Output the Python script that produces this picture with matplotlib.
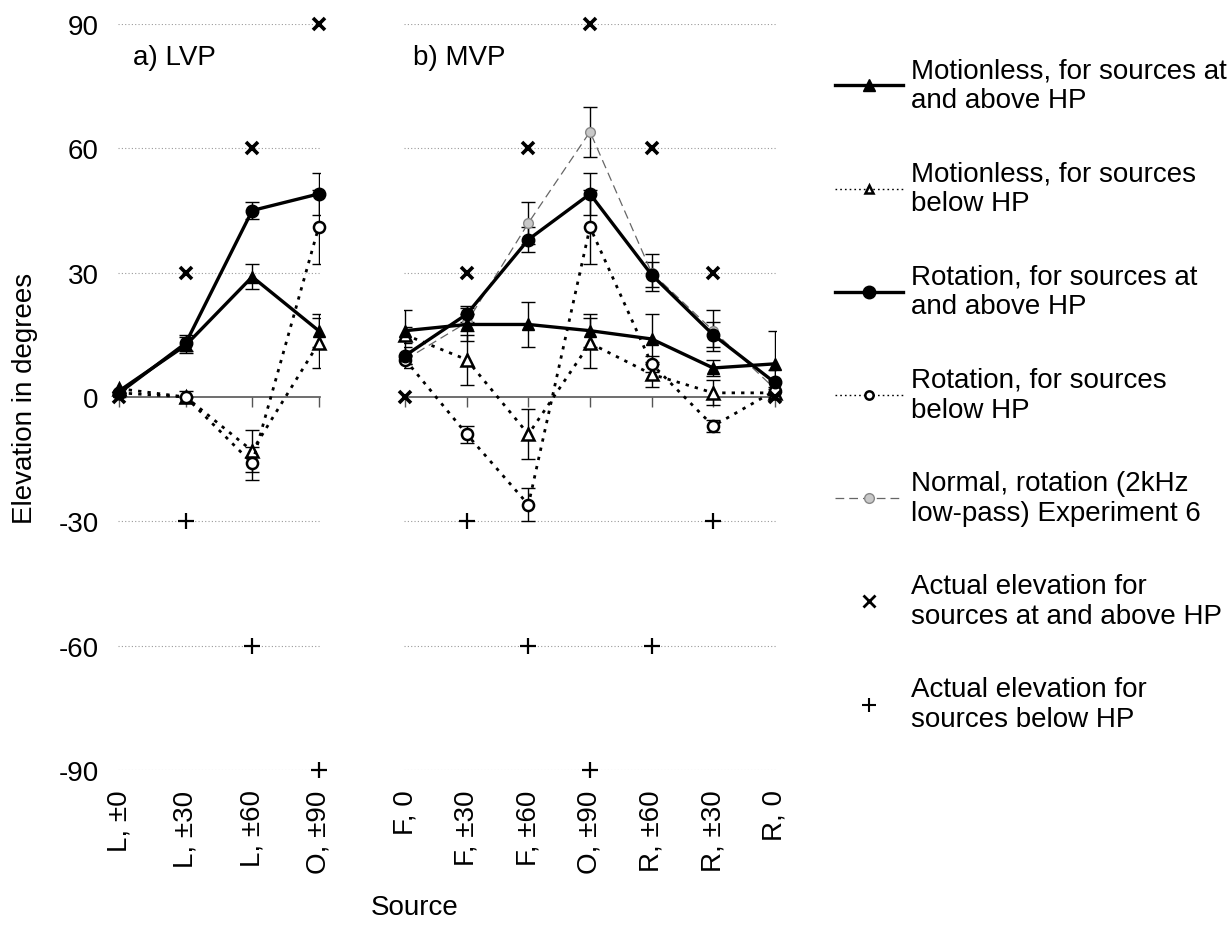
import numpy as np
import matplotlib
matplotlib.use("Agg")
import matplotlib.pyplot as plt
from matplotlib.lines import Line2D

plt.rcParams['font.family'] = ['Liberation Sans', 'DejaVu Sans']
plt.rcParams['font.size'] = 20
plt.rcParams['axes.unicode_minus'] = False

nan = np.nan

# ---- categories ----
lvp_cats = ['L, ±0', 'L, ±30', 'L, ±60', 'O, ±90']
mvp_cats = ['F, 0', 'F, ±30', 'F, ±60', 'O, ±90', 'R, ±60', 'R, ±30', 'R, 0']

# ---- a) LVP ----
lvp_still_above = [1.5, 12.5, 29, 16]
lvp_still_above_err = [1, 2, 3, 4]
lvp_still_below = [2, 0, -13, 13]
lvp_still_below_err = [0, 0, 5, 6]
lvp_rot_above = [1, 13, 45, 49]
lvp_rot_above_err = [1, 2, 2, 5]
lvp_rot_below = [1, 0, -16, 41]
lvp_rot_below_err = [0, 1.5, 4, 9]
lvp_actual_above = [0, 30, 60, 90]
lvp_actual_below = [nan, -30, -60, -90]

# ---- b) MVP ----
mvp_still_above = [16, 17.5, 17.5, 16, 14, 7, 8]
mvp_still_above_err = [5, 4, 5.5, 4, 6, 2, 8]
mvp_still_below = [15, 9, -9, 13, 5.5, 1, 1]
mvp_still_below_err = [2, 6, 6, 6, 3, 3, 1]
mvp_rot_above = [10, 20, 38, 49, 29.5, 15, 3.5]
mvp_rot_above_err = [2, 2, 3, 5, 3, 3, 3]
mvp_rot_below = [9, -9, -26, 41, 8, -7, 1.5]
mvp_rot_below_err = [1, 2, 4, 9, 2, 1.5, 1]
mvp_normal = [9, 18, 42, 64, 30, 16, 2]
mvp_normal_err = [2, 2, 5, 6, 4.5, 5, 2]
mvp_actual_above = [0, 30, 60, 90, 60, 30, 0]
mvp_actual_below = [nan, -30, -60, -90, -60, -30, nan]

yticks = [-90, -60, -30, 0, 30, 60, 90]

# styles
dot_ls = (0, (1.2, 2.2))
st_above = dict(color='black', lw=2.4, ls='-', marker='^', ms=9, mfc='black', mec='black')
st_below = dict(color='black', lw=2.0, ls=dot_ls, marker='^', ms=8, mfc='white', mec='black', mew=1.8)
rot_above = dict(color='black', lw=2.4, ls='-', marker='o', ms=9, mfc='black', mec='black')
rot_below = dict(color='black', lw=2.0, ls=dot_ls, marker='o', ms=8, mfc='white', mec='black', mew=1.8)
normal = dict(color='#666666', lw=0.9, ls=(0, (7, 4)), marker='o', ms=7, mfc='#c8c8c8', mec='#888888', mew=1)
eb = dict(ecolor='black', elinewidth=1, capsize=5, capthick=1)

fig = plt.figure(figsize=(12.31, 9.37), dpi=100)
ax1 = fig.add_axes([118 / 1231, 1 - 771 / 937, 202 / 1231, 746 / 937])
ax2 = fig.add_axes([404 / 1231, 1 - 771 / 937, 372 / 1231, 746 / 937])


def setup(ax, cats, show_y):
    n = len(cats)
    ax.set_ylim(-90, 90)
    ax.set_xlim(-0.02, n - 1 + 0.02)
    for s in ['top', 'right', 'left']:
        ax.spines[s].set_visible(False)
    ax.spines['bottom'].set_position(('data', 0))
    ax.spines['bottom'].set_color('#555555')
    ax.spines['bottom'].set_linewidth(1.2)
    ax.set_xticks(range(n))
    ax.tick_params(axis='x', direction='out', length=7, width=1, color='#555555', labelbottom=False)
    ax.set_yticks(yticks)
    ax.tick_params(axis='y', length=0, pad=14)
    if not show_y:
        ax.tick_params(axis='y', labelleft=False)
    for v in yticks:
        if v != 0:
            ax.axhline(v, color='#9a9a9a', lw=0.8, ls=(0, (1, 2)), zorder=0)
    sec = ax.secondary_xaxis('bottom')
    sec.set_xticks(range(n))
    sec.set_xticklabels(cats, rotation=90)
    sec.tick_params(length=0, pad=14)
    sec.spines['bottom'].set_visible(False)


def plot_series(ax, y, err, style):
    x = np.arange(len(y))
    ax.errorbar(x, y, yerr=err, fmt='none', zorder=2, **eb)
    ax.plot(x, y, zorder=3, clip_on=False, **style)


setup(ax1, lvp_cats, True)
setup(ax2, mvp_cats, False)

plot_series(ax1, lvp_still_below, lvp_still_below_err, st_below)
plot_series(ax1, lvp_rot_below, lvp_rot_below_err, rot_below)
plot_series(ax1, lvp_still_above, lvp_still_above_err, st_above)
plot_series(ax1, lvp_rot_above, lvp_rot_above_err, rot_above)

plot_series(ax2, mvp_normal, mvp_normal_err, normal)
plot_series(ax2, mvp_still_below, mvp_still_below_err, st_below)
plot_series(ax2, mvp_rot_below, mvp_rot_below_err, rot_below)
plot_series(ax2, mvp_still_above, mvp_still_above_err, st_above)
plot_series(ax2, mvp_rot_above, mvp_rot_above_err, rot_above)

for ax, above, below in [(ax1, lvp_actual_above, lvp_actual_below),
                         (ax2, mvp_actual_above, mvp_actual_below)]:
    x = np.arange(len(above))
    ax.plot(x, above, ls='none', marker='x', ms=9, mew=2.6, color='black', zorder=4, clip_on=False)
    ax.plot(x, below, ls='none', marker='+', ms=12, mew=1.6, color='black', zorder=4, clip_on=False)

ax1.text(0.074, 0.956, 'a) LVP', transform=ax1.transAxes, va='center')
ax2.text(0.024, 0.956, 'b) MVP', transform=ax2.transAxes, va='center')

fig.text(25 / 1231, 1 - 398 / 937, 'Elevation in degrees', rotation=90, ha='center', va='center')
fig.text(415 / 1231, 1 - 908 / 937, 'Source', ha='center', va='center')

handles = [
    Line2D([], [], **st_above),
    Line2D([], [], **{**st_below, 'lw': 1.0, 'ms': 6}),
    Line2D([], [], **rot_above),
    Line2D([], [], **{**rot_below, 'lw': 1.0, 'ms': 6}),
    Line2D([], [], **normal),
    Line2D([], [], ls='none', marker='x', ms=8, mew=2, color='black'),
    Line2D([], [], ls='none', marker='+', ms=10, mew=1.5, color='black'),
]
labels = [
    'Motionless, for sources at\nand above HP',
    'Motionless, for sources\nbelow HP',
    'Rotation, for sources at\nand above HP',
    'Rotation, for sources\nbelow HP',
    'Normal, rotation (2kHz\nlow-pass) Experiment 6',
    'Actual elevation for\nsources at and above HP',
    'Actual elevation for\nsources below HP',
]
leg = fig.legend(handles, labels, loc='upper left', bbox_to_anchor=(835 / 1231, 1 - 58 / 937),
                 frameon=False, handlelength=2.45, handletextpad=0.3, labelspacing=1.7,
                 borderaxespad=0, borderpad=0)

fig.savefig('out.png', dpi=100)
